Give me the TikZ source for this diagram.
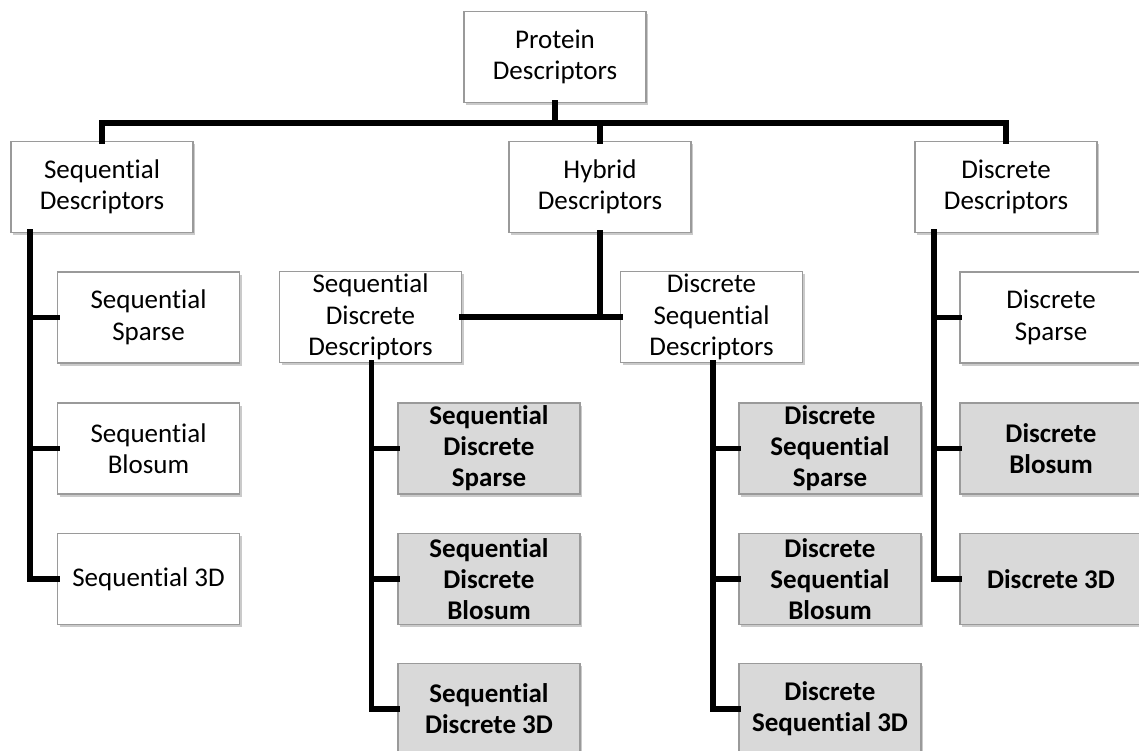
\documentclass[tikz,border=0pt]{standalone}
\usepackage{fontspec}
\setmainfont{Carlito}[Ligatures=NoCommon]
\usetikzlibrary{shadows}
\definecolor{boxline}{HTML}{9A9A9A}
\definecolor{leaffill}{HTML}{D9D9D9}
\tikzset{
  box/.style={draw=boxline, line width=1.2pt, fill=white, minimum width=182pt,
    minimum height=91pt, align=center, inner sep=2pt,
    font=\fontsize{27}{31.5}\selectfont,
    drop shadow={shadow xshift=2pt, shadow yshift=-2.5pt, opacity=0.35, fill=black!60}},
  leaf/.style={box, fill=leaffill, font=\fontsize{27}{31}\selectfont\bfseries},
  conn/.style={line width=5.5pt, line join=miter, line cap=rect}
}
\begin{document}
\begin{tikzpicture}[x=1pt,y=-1pt]
\useasboundingbox (0,0) rectangle (1139,751);
\clip (0,0) rectangle (1139,751);
% junction points of the tree
\coordinate (bar) at (555,123);
\coordinate (sl) at (30,232);
\coordinate (dl) at (934,232);
\node[box] (prot) at (555,57) {Protein\\Descriptors};
\node[box] (seq) at (102,187) {Sequential\\Descriptors};
\node[box] (hyb) at (600,187) {Hybrid\\Descriptors};
\node[box] (disc) at (1006,187) {Discrete\\Descriptors};

% top level
\draw[conn] (prot.south) -- (bar);
\draw[conn] (seq.north) |- (bar);
\draw[conn] (disc.north) |- (bar);
\draw[conn] (hyb.north) -- (hyb.north |- bar);

\node[box] (ss) at (148.5,317.5) {Sequential\\Sparse};
\node[box] (sb) at (148.5,448.5) {Sequential\\Blosum};
\node[box] (s3) at (148.5,579) {Sequential 3D};

\node[box] (sdd) at (370.5,317) {Sequential\\Discrete\\Descriptors};
\node[box] (dsd) at (711.5,317) {Discrete\\Sequential\\Descriptors};

\node[leaf] (sds) at (489,448.5) {Sequential\\Discrete\\Sparse};
\node[leaf] (sdb) at (489,579) {Sequential\\Discrete\\Blosum};
\node[leaf] (sd3) at (489,709) {Sequential\\Discrete 3D};

\node[leaf] (dss) at (830,448.5) {Discrete\\Sequential\\Sparse};
\node[leaf] (dsb) at (830,579) {Discrete\\Sequential\\Blosum};
\node[leaf] (ds3) at (830,709) {Discrete\\Sequential 3D};

\node[box] (dsp) at (1051,317.5) {Discrete\\Sparse};
\node[leaf] (dbl) at (1051,448.5) {Discrete\\Blosum};
\node[leaf] (d3) at (1051,579) {Discrete 3D};

% sequential branch
\draw[conn] (sl) |- (s3.west);
\draw[conn] (sl |- ss.west) -- (ss.west);
\draw[conn] (sl |- sb.west) -- (sb.west);
% hybrid branch
\draw[conn] (hyb.south) -- (hyb.south |- sdd.east);
\draw[conn] (sdd.east) -- (dsd.west);
\coordinate (sddl) at ([xshift=1pt]sdd.south);
\coordinate (dsdl) at ([xshift=1.5pt]dsd.south);
\draw[conn] (sddl) |- (sd3.west);
\draw[conn] (sddl |- sds.west) -- (sds.west);
\draw[conn] (sddl |- sdb.west) -- (sdb.west);
\draw[conn] (dsdl) |- (ds3.west);
\draw[conn] (dsdl |- dss.west) -- (dss.west);
\draw[conn] (dsdl |- dsb.west) -- (dsb.west);
% discrete branch
\draw[conn] (dl) |- (d3.west);
\draw[conn] (dl |- dsp.west) -- (dsp.west);
\draw[conn] (dl |- dbl.west) -- (dbl.west);
\end{tikzpicture}
\end{document}
